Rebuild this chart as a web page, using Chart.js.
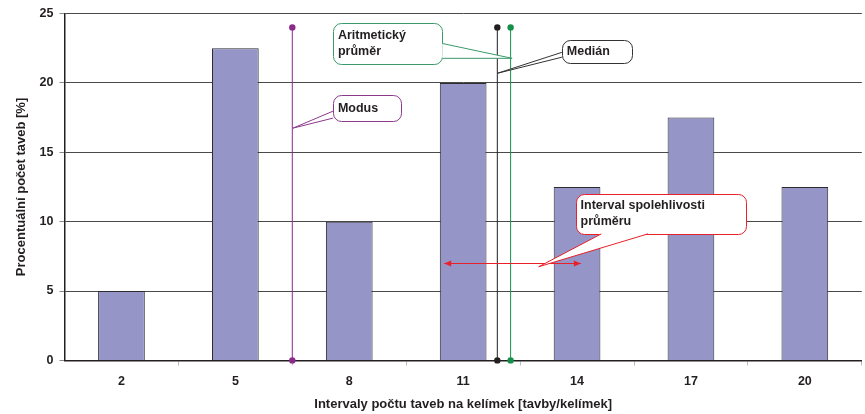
<!DOCTYPE html>
<html>
<head>
<meta charset="utf-8">
<script src="https://cdn.jsdelivr.net/npm/chart.js@4/dist/chart.umd.min.js"></script>
<style>
html,body{margin:0;padding:0;background:#fff;}
#wrap{width:865px;height:414px;position:relative;}
</style>
</head>
<body>
<div id="wrap"><canvas id="c" width="865" height="414"></canvas></div>
<script>
// ---- data ----
const categories = [2, 5, 8, 11, 14, 17, 20];
const percentages = [5, 22.5, 10, 20, 12.5, 17.5, 12.5];
const yTicks = [0, 5, 10, 15, 20, 25];
const modus = 6.5;
const median = 11.9;
const mean = 12.25;
const markerTop = 24;
const ciLow = 10.5;
const ciHigh = 14.1;
const ciLevel = 7;
const xTitle = 'Intervaly počtu taveb na kelímek [tavby/kelímek]';
const yTitle = 'Procentuální počet taveb [%]';

// callouts (box in data units, tail base points and tip in data units)
const callouts = [
  {lines:['Aritmetický','průměr'], color:'#3a9a6a', box:[7.57,10.45,24.28,21.34],
   base:[[10.45,22.84],[10.45,21.77]], tip:[mean+0.04,21.77]},
  {lines:['Medián'], color:'#333333', box:[13.6,15.45,23.06,21.4],
   base:[[13.6,22.2],[13.6,21.85]], tip:[median,20.69]},
  {lines:['Modus'], color:'#8b3a8b', box:[7.57,9.35,19.11,17.24],
   base:[[7.57,17.96],[7.57,17.46]], tip:[modus+0.02,16.74]},
  {lines:['Interval spolehlivosti','průměru'], color:'#e8202a', box:[13.96,18.44,12.0,9.12],
   base:[[14.64,9.12],[15.87,9.12]], tip:[12.99,6.75]}
];

const font = 'Arial, "Liberation Sans", sans-serif';
const xMin = categories[0] - 1.5, xMax = categories[categories.length-1] + 1.5;
const boundaries = [];
for (let v = xMin + 3; v <= xMax; v += 3) boundaries.push(v);

const calloutPlugin = {
  id: 'callouts',
  afterDatasetsDraw(chart) {
    const ctx = chart.ctx, xs = chart.scales.x, ys = chart.scales.y;
    const X = v => xs.getPixelForValue(v), Y = v => ys.getPixelForValue(v);
    ctx.save();
    // confidence interval arrow
    const yA = Math.round(Y(ciLevel)) + 0.5, xa = X(ciLow), xb = X(ciHigh);
    ctx.strokeStyle = '#e8202a'; ctx.fillStyle = '#e8202a'; ctx.lineWidth = 1;
    ctx.beginPath(); ctx.moveTo(xa, yA); ctx.lineTo(xb, yA); ctx.stroke();
    [[xa, 1], [xb, -1]].forEach(([px, d]) => {
      ctx.beginPath(); ctx.moveTo(px, yA); ctx.lineTo(px + d*7, yA - 3); ctx.lineTo(px + d*7, yA + 3); ctx.closePath(); ctx.fill();
    });
    callouts.forEach(c => {
      const x1 = X(c.box[0]), x2 = X(c.box[1]), y1 = Y(c.box[2]), y2 = Y(c.box[3]);
      const r = 8;
      ctx.lineWidth = 1;
      ctx.strokeStyle = c.color;
      ctx.fillStyle = '#fff';
      ctx.beginPath();
      ctx.roundRect(Math.round(x1)+0.5, Math.round(y1)+0.5, Math.round(x2-x1), Math.round(y2-y1), r);
      ctx.fill(); ctx.stroke();
      const b1 = [X(c.base[0][0]), Y(c.base[0][1])], b2 = [X(c.base[1][0]), Y(c.base[1][1])];
      const t = [X(c.tip[0]), Y(c.tip[1])];
      ctx.beginPath(); ctx.moveTo(b1[0], b1[1]); ctx.lineTo(t[0], t[1]); ctx.lineTo(b2[0], b2[1]); ctx.closePath();
      ctx.fill();
      ctx.beginPath(); ctx.moveTo(b1[0], b1[1]); ctx.lineTo(t[0], t[1]); ctx.lineTo(b2[0], b2[1]); ctx.stroke();
      ctx.fillStyle = '#231f20';
      ctx.font = 'bold 12.5px ' + font;
      ctx.textBaseline = 'middle';
      ctx.textAlign = 'left';
      const n = c.lines.length, lh = 16;
      const cy = (y1 + y2) / 2;
      c.lines.forEach((s, i) => ctx.fillText(s, x1 + 5, cy + (i - (n-1)/2) * lh));
    });
    ctx.restore();
  }
};

function marker(value, color) {
  return {
    type: 'line',
    data: [{x: value, y: 0}, {x: value, y: markerTop}],
    borderColor: color, backgroundColor: color,
    borderWidth: 1, pointRadius: 3.2, pointHoverRadius: 3.2,
    pointBorderWidth: 0, clip: false, order: 0
  };
}

new Chart(document.getElementById('c'), {
  type: 'bar',
  data: {
    datasets: [
      {
        type: 'bar',
        data: categories.map((c, i) => ({x: c, y: percentages[i]})),
        backgroundColor: '#9595c8', borderColor: '#2b2b30', borderWidth: 1,
        barPercentage: 0.82, categoryPercentage: 1, order: 1
      },
      marker(modus, '#8b2a8b'),
      marker(median, '#231f20'),
      marker(mean, '#15904a')
    ]
  },
  options: {
    responsive: false, animation: false,
    layout: {padding: {left: 14, right: 0, top: 5, bottom: 2}},
    plugins: {legend: {display: false}, tooltip: {enabled: false}},
    scales: {
      x: {
        type: 'linear', min: xMin, max: xMax, offset: false,
        afterBuildTicks: s => { s.ticks = categories.concat(boundaries).sort((a,b)=>a-b).map(v => ({value: v})); },
        afterFit: s => { s.paddingRight = 0; },
        ticks: {
          autoSkip: false, maxRotation: 0, padding: 8.5, color: '#231f20',
          font: {family: font, size: 12.5, weight: 'bold'},
          callback: v => categories.includes(v) ? String(v) : ''
        },
        grid: {
          offset: false, drawOnChartArea: false, tickLength: 5,
          tickColor: ctx => (ctx.tick && categories.includes(ctx.tick.value)) ? 'rgba(0,0,0,0)' : '#bbbbbb'
        },
        border: {color: '#231f20', width: 1.5},
        title: {display: true, text: xTitle, color: '#231f20', padding: {top: -1, bottom: 0},
                font: {family: font, size: 13, weight: 'bold'}}
      },
      y: {
        min: 0, max: 25,
        afterBuildTicks: s => { s.ticks = yTicks.map(v => ({value: v})); },
        ticks: {padding: 6, color: '#231f20', font: {family: font, size: 12.5, weight: 'bold'}},
        grid: {color: '#4a4a4a', lineWidth: 1, tickLength: 5, tickColor: '#888'},
        border: {color: '#231f20', width: 1.5},
        title: {display: true, text: yTitle, color: '#231f20', padding: {top: 0, bottom: 4},
                font: {family: font, size: 13, weight: 'bold'}}
      }
    }
  },
  plugins: [calloutPlugin]
});
</script>
</body>
</html>
